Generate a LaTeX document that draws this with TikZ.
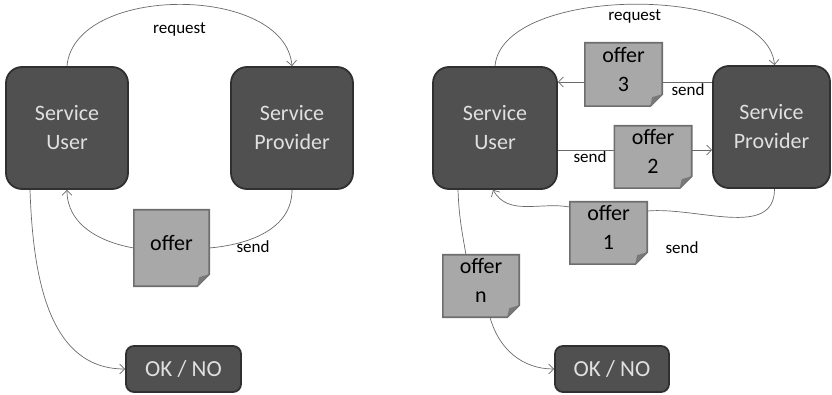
\documentclass[tikz,border=0pt]{standalone}
\usepackage{fontspec}
\setmainfont{Carlito}
\usetikzlibrary{arrows.meta, backgrounds}

\definecolor{boxgray}{HTML}{505050}
\definecolor{boxline}{HTML}{303030}
\definecolor{docgray}{HTML}{A8A8A8}
\definecolor{docline}{HTML}{6E6E6E}
\definecolor{foldgray}{HTML}{787878}
\definecolor{wiregray}{HTML}{6A6A6A}

\tikzset{
  party/.style={draw=boxline, line width=1.8pt, fill=boxgray, rounded corners=16pt, minimum width=122pt, minimum height=122pt, text=white!88!black, align=center, font=\fontsize{22}{29}\selectfont},
  verdict/.style={draw=boxline, line width=1.8pt, fill=boxgray, rounded corners=8pt, minimum width=115pt, minimum height=46pt, text=white!88!black, font=\fontsize{23}{28}\selectfont},
  offer/.style={minimum width=77pt, minimum height=62pt, inner sep=0pt, text depth=11pt, align=center, font=\fontsize{22}{29}\selectfont},
  lbl/.style={font=\fontsize{17}{20}\selectfont},
  wire/.style={draw=wiregray, line width=0.7pt},
  >={Straight Barb[length=5pt,width=10pt]}
}

\newcommand{\drawpaper}[1]{%
  \filldraw[fill=docgray, draw=docline, line width=1.6pt] (#1.north west) -- (#1.north east) -- ([yshift=12pt]#1.south east) -- ([xshift=-12pt]#1.south east) -- (#1.south west) -- cycle;
  \fill[foldgray] ([yshift=12pt]#1.south east) -- ([xshift=-12pt]#1.south east) -- ([xshift=-10pt,yshift=9pt]#1.south east) -- cycle;}

\begin{document}
\begin{tikzpicture}[x=1pt, y=-1pt]
\useasboundingbox (0,0) rectangle (832,395);

% one offer
\node[party] (userL) at (67,128) {Service\\User};
\node[party] (provL) at (292,128) {Service\\Provider};
\node[offer, minimum height=76pt, minimum width=75pt] (offerL) at (171.5,248) {offer};
\node[verdict] (okL) at (183.5,369) {OK / NO};
\node[lbl] (sendL) at (253,247) {send};

\draw[wire,->] (userL.north) to[out=85, in=95, looseness=0.94] node[lbl, below=15pt] (reqL) {request} (provL.north);
\draw[wire] (provL.south) to[out=-90, in=5] (offerL.east);
\draw[wire,->] (offerL.west) to[out=170, in=-90] (userL.south);
\draw[wire,->] ([xshift=-37pt]userL.south) to[out=-88, in=180] (okL.west);

% many offers
\node[party, minimum width=124pt] (userR) at (495,128) {Service\\User};
\node[party, minimum width=117pt] (provR) at (771.5,127) {Service\\Provider};
\node[offer, minimum height=63pt] (offer3) at (623.5,74.5) {offer\\3};
\node[offer] (offer2) at (653,157) {offer\\2};
\node[offer] (offer1) at (608.5,233) {offer\\1};
\node[offer, minimum width=76pt] (offerN) at (481,286) {offer\\n};
\node[verdict, minimum width=114pt] (okR) at (612,369) {OK / NO};
\node[lbl] (send3) at (688,90) {send};
\node[lbl] (send2) at (590,157) {send};
\node[lbl] (send1) at (682,248) {send};
\coordinate (lane3) at (0,82);
\coordinate (lane2) at (0,150);

\draw[wire,->] (userR.north) to[out=85, in=95, looseness=0.75] node[lbl, below=2pt] (reqR) {request} ([xshift=3pt]provR.north);
\draw[wire] (provR.west |- lane3) -- (offer3.east |- lane3);
\draw[wire,->] (offer3.west |- lane3) -- (userR.east |- lane3);
\draw[wire] (userR.east |- lane2) -- (offer2.west |- lane2);
\draw[wire,->] (offer2.east |- lane2) -- (provR.west |- lane2);
\draw[wire] ([xshift=3pt]provR.south) to[out=-90, in=5] ([yshift=22pt]offer1.east);
\draw[wire,->] ([yshift=26pt]offer1.west) to[out=170, in=-60] ([xshift=-2pt]userR.south);
\draw[wire] ([xshift=-37pt]userR.south) to[out=-88, in=100] ([xshift=-15pt]offerN.north);
\draw[wire,->] ([xshift=9pt]offerN.south) to[out=-75, in=180] (okR.west);

\begin{scope}[on background layer]
\foreach \n in {offerL, offer3, offer2, offer1, offerN} {\drawpaper{\n}}
\end{scope}
\end{tikzpicture}
\end{document}
